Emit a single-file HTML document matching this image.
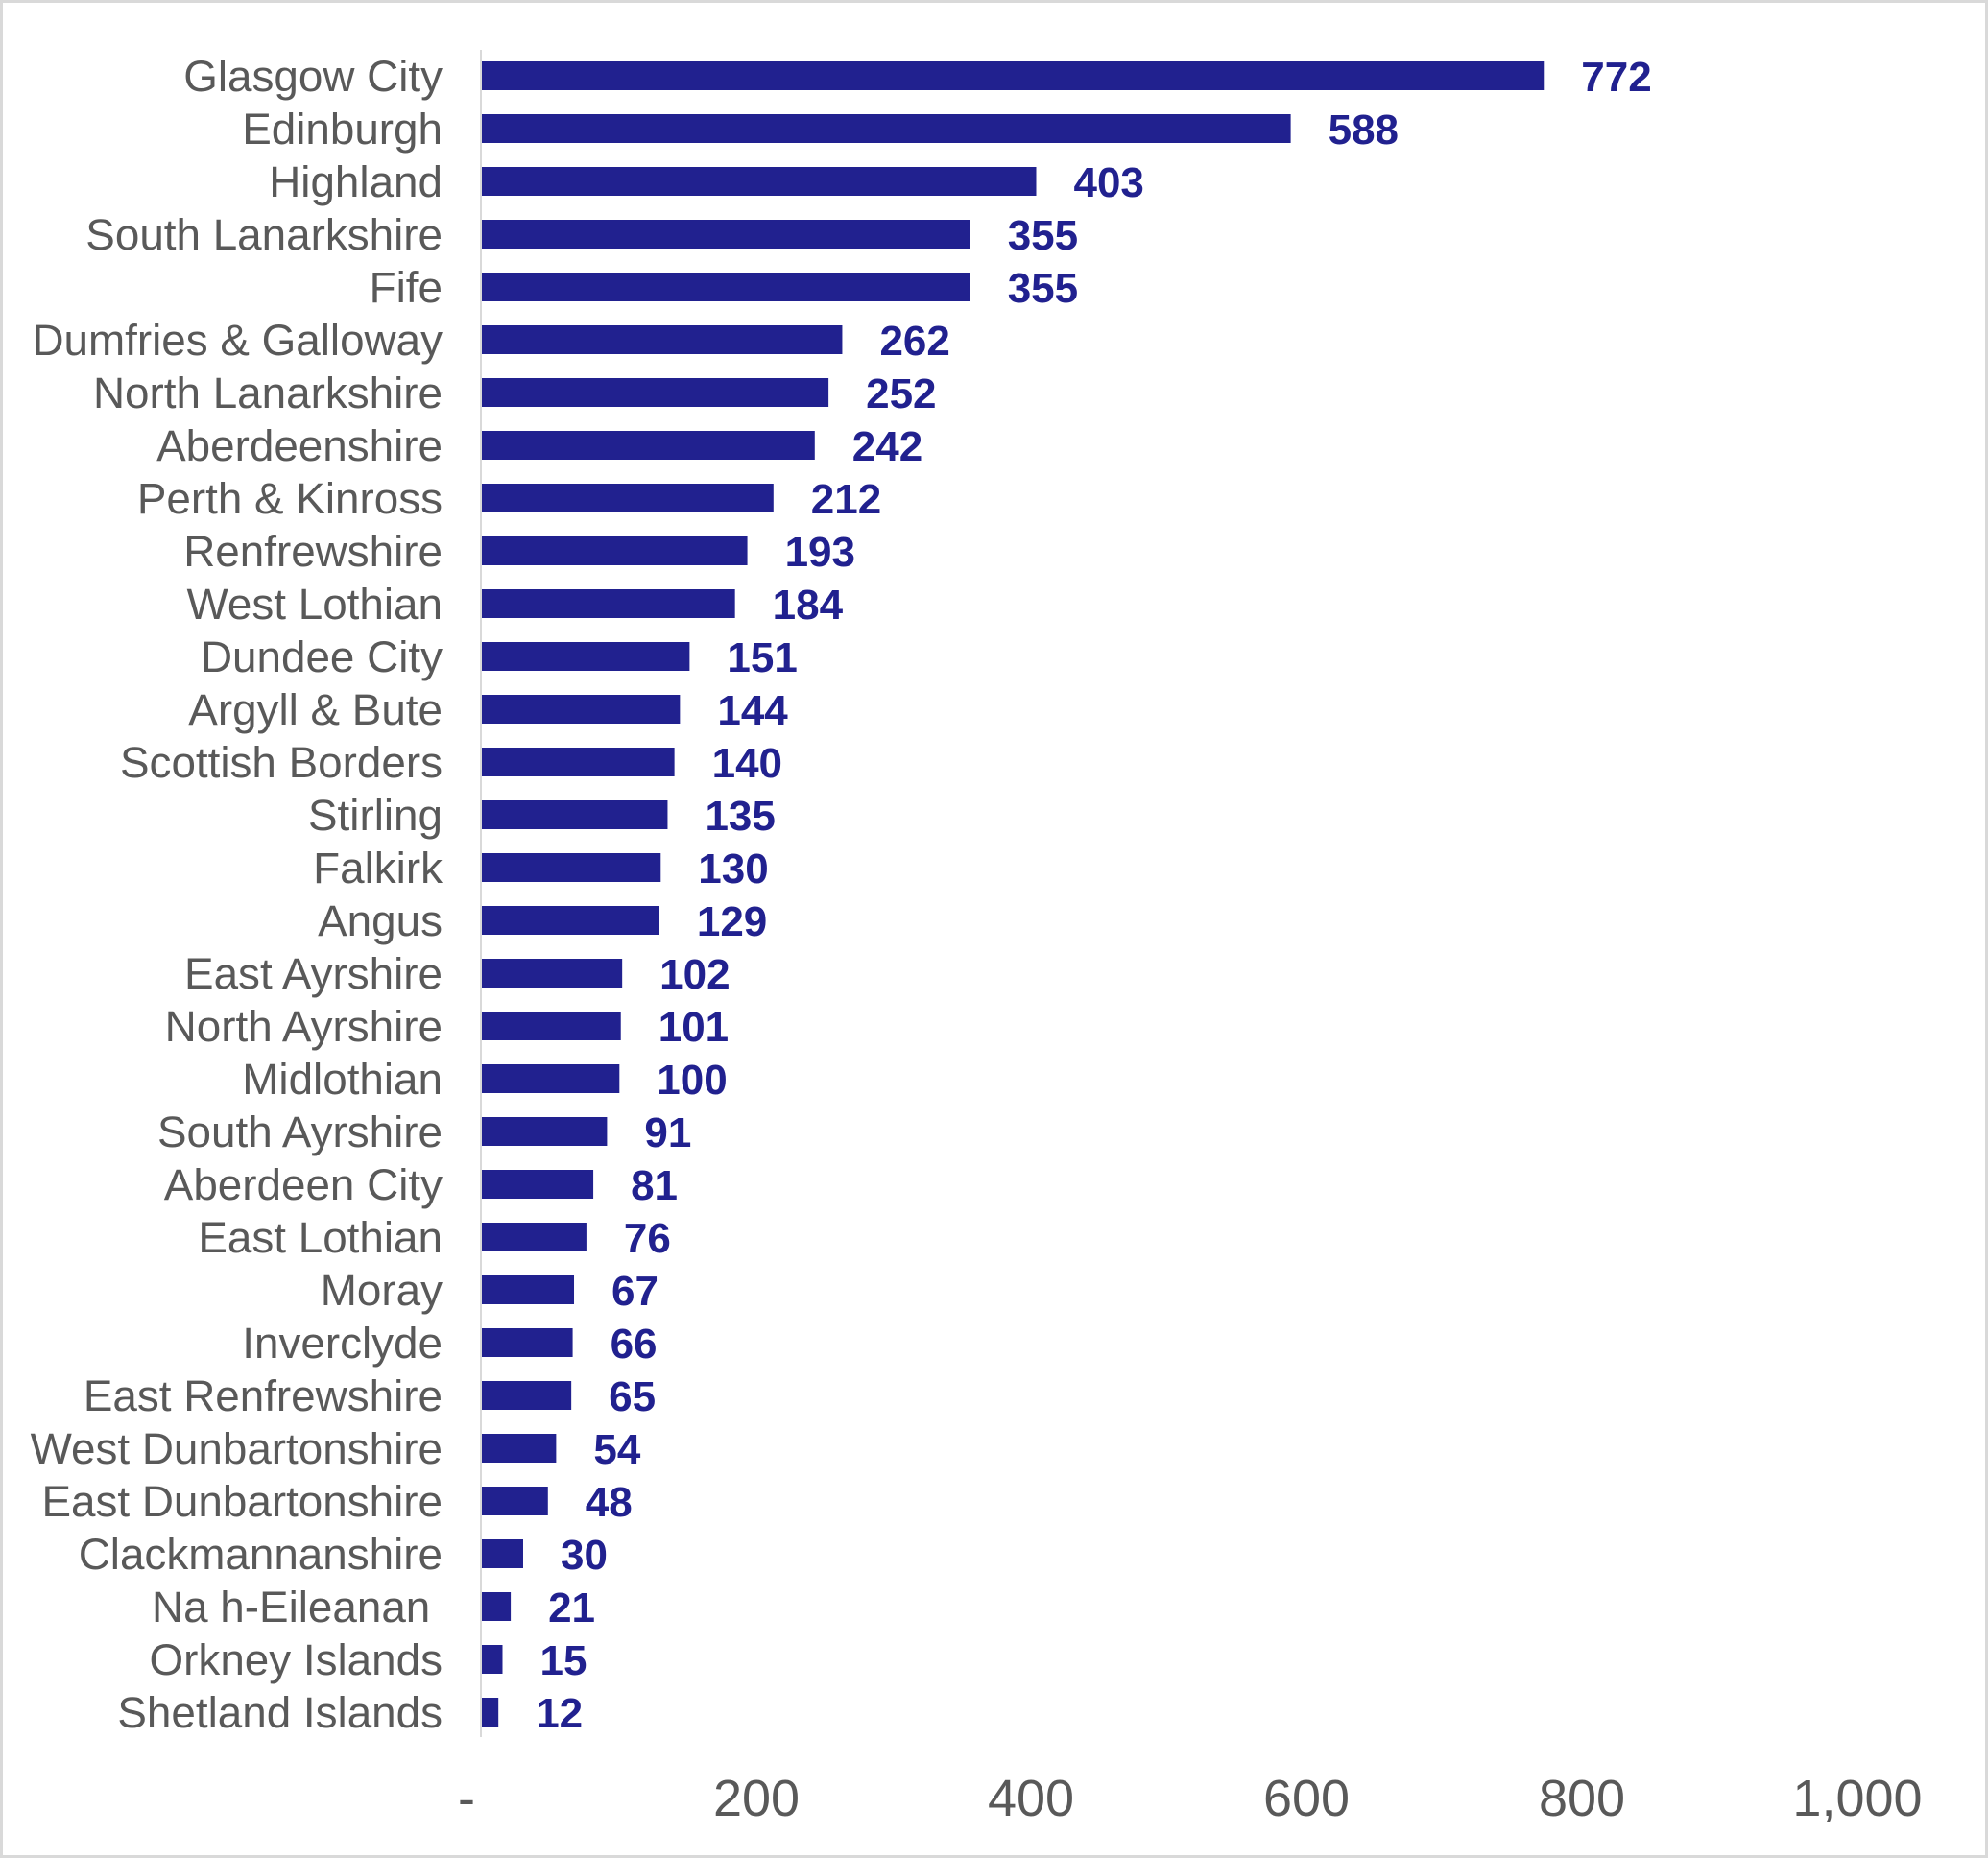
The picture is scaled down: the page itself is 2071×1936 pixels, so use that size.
<!DOCTYPE html>
<html><head><meta charset="utf-8"><style>
html,body{margin:0;padding:0;background:#fff}
svg{display:block}
.l{font-family:"Liberation Sans",sans-serif;font-size:45.8px;fill:#595959;text-anchor:end}
.v{font-family:"Liberation Sans",sans-serif;font-size:44px;font-weight:bold;fill:#21218f}
.t{font-family:"Liberation Sans",sans-serif;font-size:54px;fill:#595959;text-anchor:middle}
</style></head><body>
<svg width="2071" height="1936" xmlns="http://www.w3.org/2000/svg">
<rect x="1.5" y="1.5" width="2068" height="1933" fill="#fff" stroke="#d9d9d9" stroke-width="3"/>
<line x1="501" y1="52" x2="501" y2="1810" stroke="#d9d9d9" stroke-width="2"/>
<g id="g"></g>
<text class="t" x="486" y="1892">-</text>
<text class="t" x="788" y="1892">200</text>
<text class="t" x="1074" y="1892">400</text>
<text class="t" x="1361" y="1892">600</text>
<text class="t" x="1648" y="1892">800</text>
<text class="t" x="1935" y="1892">1,000</text>
</svg>
<script>
var d=[["Glasgow City",772],["Edinburgh",588],["Highland",403],["South Lanarkshire",355],["Fife",355],["Dumfries & Galloway",262],["North Lanarkshire",252],["Aberdeenshire",242],["Perth & Kinross",212],["Renfrewshire",193],["West Lothian",184],["Dundee City",151],["Argyll & Bute",144],["Scottish Borders",140],["Stirling",135],["Falkirk",130],["Angus",129],["East Ayrshire",102],["North Ayrshire",101],["Midlothian",100],["South Ayrshire",91],["Aberdeen City",81],["East Lothian",76],["Moray",67],["Inverclyde",66],["East Renfrewshire",65],["West Dunbartonshire",54],["East Dunbartonshire",48],["Clackmannanshire",30],["Na h-Eileanan ",21],["Orkney Islands",15],["Shetland Islands",12]];
var g=document.getElementById("g"),s="";
var pitch=(1784-79)/31;
d.forEach(function(r,i){var c=79+i*pitch,w=r[1]*1.433;
s+='<rect x="502" y="'+(c-15)+'" width="'+w+'" height="30" fill="#21218f"/>';
s+='<text class="l" x="461" y="'+(c+16)+'" xml:space="preserve">'+r[0].replace("&","&amp;")+'</text>';
s+='<text class="v" x="'+(502+w+39)+'" y="'+(c+16)+'">'+r[1]+'</text>';});
g.innerHTML=s;
</script>
</body></html>
